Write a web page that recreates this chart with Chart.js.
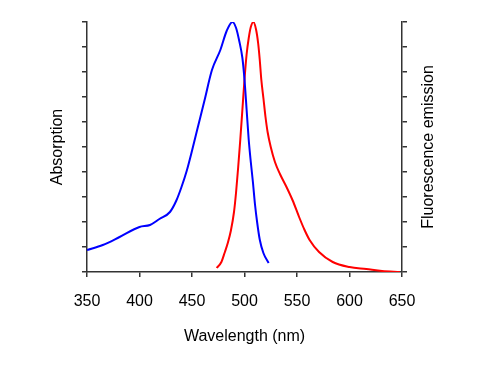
<!DOCTYPE html>
<html>
<head>
<meta charset="utf-8">
<script src="https://cdn.jsdelivr.net/npm/chart.js@4.4.1/dist/chart.umd.min.js"></script>
<style>
  html, body { margin: 0; padding: 0; background: #fff; }
</style>
</head>
<body>
<canvas id="spectra" width="500" height="368"></canvas>
<script>
// absorption (blue), peak normalised to 100
const absWavelength = [350, 365, 381, 400, 410, 419, 429, 435, 440, 445, 450, 455, 462, 469, 477, 483, 488.5, 492, 495, 498, 500, 502, 504, 506, 508, 510, 512, 514.5, 518, 523];
const absValue = [8.8, 10.8, 14, 18, 18.8, 21.2, 24, 28.5, 34, 40.5, 48.5, 57, 68.8, 80.8, 88.8, 96.4, 100, 97.6, 92.4, 85.6, 77, 65, 53, 44, 36, 27, 20, 13, 7.6, 3.6];

// fluorescence emission (red)
const emWavelength = [473.5, 478, 481, 484, 487, 490, 492, 494, 496, 498, 500, 502, 504, 506, 508.5, 511, 513, 514.5, 516, 518, 520, 522, 525, 529, 534, 540, 546, 552, 557, 562, 571, 584, 600, 616, 631, 648];
const emValue = [1.6, 4, 7.6, 11.5, 16.5, 24, 32, 42, 53, 65, 77, 87, 93.5, 98, 100, 97, 91.5, 85, 77, 69.6, 62, 56, 50, 44, 39, 34, 28.5, 22, 17, 12.8, 8, 4, 2, 1.2, 0.4, 0];

const xMin = 350, xMax = 650, xStep = 50;
const yMin = 0, yMax = 100, yStep = 10;

const xTitle = 'Wavelength (nm)';
const leftTitle = 'Absorption';
const rightTitle = 'Fluorescence emission';

const FONT = 'Liberation Sans, Arial, sans-serif';
const AXIS = '#333';

function toPoints(xs, ys) {
    return xs.map((x, i) => ({ x: x, y: ys[i] }));
}

// both vertical titles read bottom-to-top, so draw them by hand
const axisTitles = {
    id: 'axisTitles',
    afterDraw(chart) {
        const { ctx, chartArea } = chart;
        const midY = (chartArea.top + chartArea.bottom) / 2;
        ctx.save();
        ctx.font = '16px ' + FONT;
        ctx.fillStyle = '#000';
        ctx.textAlign = 'center';
        ctx.textBaseline = 'middle';
        ctx.fillText(xTitle, (chartArea.left + chartArea.right) / 2, chartArea.bottom + 65);

        ctx.translate(chartArea.left - 29, midY);
        ctx.rotate(-Math.PI / 2);
        ctx.fillText(leftTitle, 0, 0);
        ctx.restore();

        ctx.save();
        ctx.font = '16px ' + FONT;
        ctx.fillStyle = '#000';
        ctx.textAlign = 'center';
        ctx.textBaseline = 'middle';
        ctx.translate(chartArea.right + 27, midY);
        ctx.rotate(-Math.PI / 2);
        ctx.fillText(rightTitle, 0, 0);
        ctx.restore();
    }
};

const tickGrid = { drawOnChartArea: false, drawTicks: true, tickLength: 5, color: AXIS, lineWidth: 1.5 };
const border = { display: true, color: AXIS, width: 1.5 };

new Chart(document.getElementById('spectra'), {
    type: 'line',
    data: {
        datasets: [
            {
                label: 'Absorption',
                data: toPoints(absWavelength, absValue),
                borderColor: '#0000ff',
                borderWidth: 2,
                pointRadius: 0,
                cubicInterpolationMode: 'monotone',
                yAxisID: 'y'
            },
            {
                label: 'Fluorescence emission',
                data: toPoints(emWavelength, emValue),
                borderColor: '#ff0000',
                borderWidth: 2,
                pointRadius: 0,
                cubicInterpolationMode: 'monotone',
                yAxisID: 'y2'
            }
        ]
    },
    options: {
        responsive: false,
        animation: false,
        devicePixelRatio: 1,
        layout: { padding: { top: 22, left: 0, right: 0, bottom: 0 } },
        plugins: { legend: { display: false }, tooltip: { enabled: false } },
        scales: {
            x: {
                type: 'linear',
                min: xMin,
                max: xMax,
                ticks: { stepSize: xStep, color: '#000', font: { family: FONT, size: 16 }, padding: 15, maxRotation: 0 },
                grid: tickGrid,
                border: border,
                afterFit: s => { s.height = 96; }
            },
            y: {
                position: 'left',
                min: yMin,
                max: yMax,
                ticks: { stepSize: yStep, display: false },
                grid: tickGrid,
                border: border,
                afterFit: s => { s.width = 87; }
            },
            y2: {
                position: 'right',
                min: yMin,
                max: yMax,
                ticks: { stepSize: yStep, display: false },
                grid: tickGrid,
                border: border,
                afterFit: s => { s.width = 98; }
            }
        }
    },
    plugins: [axisTitles]
});
</script>
</body>
</html>
